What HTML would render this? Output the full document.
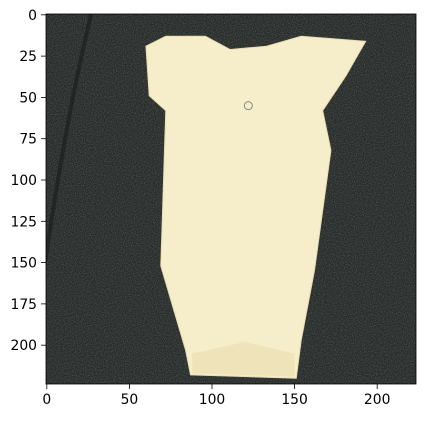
<!DOCTYPE html>
<html><head><meta charset="utf-8"><style>
body{margin:0;background:#fff;}
svg text{font-family:"DejaVu Sans","Liberation Sans",sans-serif;font-size:13.9px;fill:#000;}
</style></head><body>
<svg width="425" height="417">
<defs>
<filter id="noise"><feTurbulence type="fractalNoise" baseFrequency="0.9" numOctaves="2" seed="3"/><feColorMatrix type="matrix" values="0 0 0 0 0.35  0 0 0 0 0.37  0 0 0 0 0.35  0 0 0 1.2 -0.45"/></filter>
<clipPath id="cp"><rect x="46" y="14" width="370" height="370"/></clipPath>
</defs>
<g clip-path="url(#cp)">
<rect x="46" y="14" width="370" height="370" fill="#262b29"/>
<rect x="46" y="14" width="370" height="370" filter="url(#noise)" opacity="0.6"/>
<path id="streak" fill="none" stroke="#181b1a" stroke-width="4" opacity="0.6"/>
<polygon id="onesie" fill="#f6eecb" stroke="#e8dcb0" stroke-width="1"/>
<polygon id="crotch" fill="#efe3ba"/>
<circle id="logo" r="4" fill="none" stroke="#8a8a80" stroke-width="1"/>
</g>
<rect x="46" y="14" width="370" height="370" fill="none" stroke="#000" stroke-width="0.8"/>
<g id="ticks"></g>
</svg>
<script>
const N = 224;
const xTicks = [0,50,100,150,200];
const yTicks = [0,25,50,75,100,125,150,175,200];
const onesieX = [72,96,111,133,154,193,181,167,172,162,154,151,87,84,69,72,62,60];
const onesieY = [13,13,21,19,13,16,37,58,82,155,197,220,218,203,152,58,49,19];
const L=46,T=14,S=370/N;
const sx=v=>L+(v+0.5)*S, sy=v=>T+(v+0.5)*S;
document.getElementById('onesie').setAttribute('points',onesieX.map((x,i)=>sx(x)+','+sy(onesieY[i])).join(' '));
document.getElementById('crotch').setAttribute('points',[[88,205],[120,198],[150,205],[150,219],[88,217]].map(p=>sx(p[0])+','+sy(p[1])).join(' '));
const lg=document.getElementById('logo');lg.setAttribute('cx',sx(122));lg.setAttribute('cy',sy(55));
document.getElementById('streak').setAttribute('d','M'+sx(27)+' '+sy(-1)+' Q'+sx(12)+' '+sy(60)+' '+sx(-1)+' '+sy(150));
const g=document.getElementById('ticks');const ns='http://www.w3.org/2000/svg';
xTicks.forEach(v=>{
 const l=document.createElementNS(ns,'line');l.setAttribute('x1',sx(v));l.setAttribute('x2',sx(v));l.setAttribute('y1',384);l.setAttribute('y2',389);l.setAttribute('stroke','#000');l.setAttribute('stroke-width','0.8');
 
 
 g.appendChild(l);
 const t=document.createElementNS(ns,'text');t.setAttribute('x',sx(v));t.setAttribute('y',404);t.setAttribute('text-anchor','middle');t.textContent=v;
 
 
 g.appendChild(t);
});
yTicks.forEach(v=>{
 const l=document.createElementNS(ns,'line');l.setAttribute('x1',41);l.setAttribute('x2',46);l.setAttribute('y1',sy(v));l.setAttribute('y2',sy(v));l.setAttribute('stroke','#000');l.setAttribute('stroke-width','0.8');
 
 
 g.appendChild(l);
 const t=document.createElementNS(ns,'text');t.setAttribute('x',37);t.setAttribute('y',sy(v)+5);t.setAttribute('text-anchor','end');t.textContent=v;
 
 
 g.appendChild(t);
});
</script>
</body></html>
